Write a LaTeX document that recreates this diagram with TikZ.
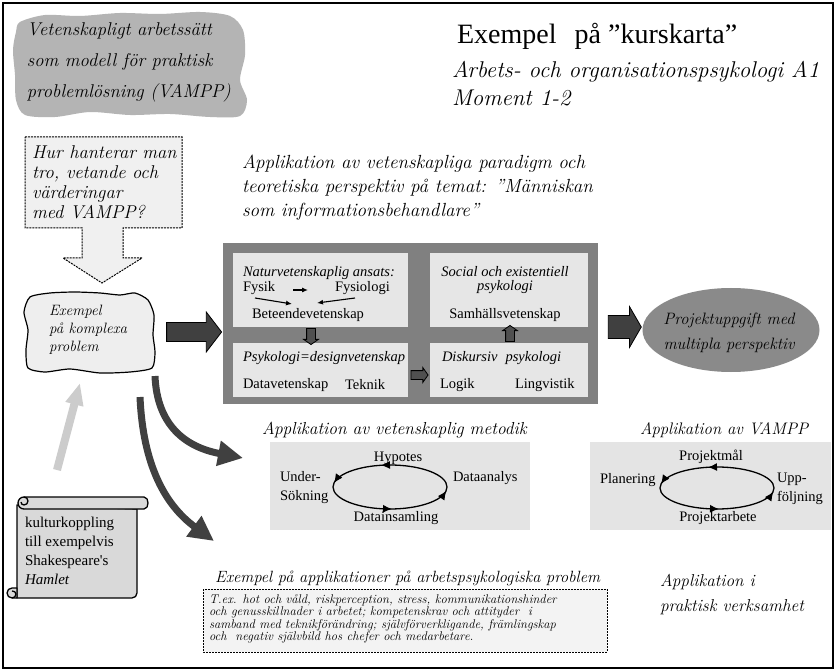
\documentclass[tikz,border=0pt]{standalone}
\usepackage{fontspec}
\newfontfamily\serif{Liberation Serif}
\usetikzlibrary{shapes.geometric,shapes.arrows,arrows.meta}
\definecolor{blobgrey}{HTML}{B4B4B4}
\definecolor{outergrey}{HTML}{808080}
\definecolor{innergrey}{HTML}{E6E6E6}
\definecolor{ellgrey}{HTML}{8A8A8A}
\definecolor{darkarrow}{HTML}{404040}
\definecolor{smallarrow}{HTML}{505050}
\definecolor{lightarrow}{HTML}{CCCCCC}
\definecolor{qfill}{HTML}{F0F0F0}
\definecolor{blobfill}{HTML}{EEEEEE}
\definecolor{scrollfill}{HTML}{D9D9D9}
\definecolor{cycfill}{HTML}{E4E4E4}
\definecolor{textboxfill}{HTML}{F3F3F3}
\newcommand\hf[2]{\fontsize{#1}{#2}\selectfont\itshape\addfontfeatures{FakeBold=1.2}}
\newcommand\srf[2]{\fontsize{#1}{#2}\selectfont\serif}
\begin{document}
\begin{tikzpicture}[x=1pt,y=-1pt,
  txt/.style={inner sep=0pt, outer sep=0pt, anchor=west, align=left},
  ctxt/.style={inner sep=0pt, outer sep=0pt, anchor=center, align=center},
  blockarr/.style={single arrow, draw=black, line width=0.8pt, fill=#1, inner xsep=0pt, outer sep=0pt},
  smallarr/.style={line width=1.1pt, -{Latex[length=6pt,width=5pt]}},
  cycline/.style={line width=1.3pt},
  cyctip/.style={line width=1.3pt, -{Latex[length=9pt,width=8pt]}},
  curvarr/.style={draw=darkarrow, line width=7pt, -{Triangle[length=25pt,width=24pt]}},
  scrollline/.style={draw=black, line width=1.3pt, fill=scrollfill, line join=round},
]
\useasboundingbox (0,0) rectangle (836,671);
\fill[white] (0,0) rectangle (836,671);
\draw[line width=1.5pt] (3,3) rectangle (833,668);

% top-left blob
\fill[blobgrey] plot[smooth cycle, tension=0.5] coordinates {(20,22) (45,15) (80,16) (120,13) (160,14) (200,12) (230,16) (243,30) (245,55) (240,80) (247,100) (240,116) (210,117) (170,114) (130,115) (90,112) (55,117) (25,115) (16,100) (15,75) (13,50) (16,32)};
\node[txt, font=\hf{18.5}{31}] (vampp) at (27,62) {Vetenskapligt arbetssätt\\som modell för praktisk\\problemlösning (VAMPP)};

% titles
\node[txt, font=\srf{28}{30}] (title) at (457,36) {Exempel\hspace{0.4em} på ”kurskarta”};
\node[txt, font=\hf{22.8}{28}] (course) at (452,84) {Arbets- och organisationspsykologi A1\\Moment 1-2};

% question callout
\draw[fill=qfill, line width=1pt, dash pattern=on 2pt off 1pt]
  (25,137) -- (182,137) -- (182,228) -- (123,228) -- (123,258) -- (142,258) -- (102,283) -- (63,258) -- (82,258) -- (82,228) -- (25,228) -- cycle;
\node[txt, font=\hf{18.5}{20}] (question) at (32,182) {Hur hanterar man\\tro, vetande och\\värderingar\\med VAMPP?};

% application title
\node[txt, font=\hf{19}{24}] (appl) at (242,188) {Applikation av vetenskapliga paradigm och\\teoretiska perspektiv på temat: ”Människan\\som informationsbehandlare”};

% complex problem blob
\draw[fill=blobfill, line width=1.2pt] plot[smooth cycle, tension=0.4] coordinates {(30,297) (50,293) (75,292) (100,293) (120,295) (135,293) (148,300) (154,315) (153,335) (155,352) (152,368) (130,372) (100,373) (70,369) (45,372) (28,368) (26,350) (28,330) (24,312)};
\node[txt, font=\hf{15}{18}] (komplex) at (49,330) {Exempel\\på komplexa\\problem};

% big block arrow to grey box
\node[blockarr=darkarrow, inner ysep=9pt, minimum height=55pt, single arrow head extend=10.5pt, single arrow tip angle=105] (arrA) at (190.5,332) {};

% grey box
\fill[outergrey] (223,243) rectangle (598,404);
\fill[innergrey] (233,253) rectangle (408,327);
\fill[innergrey] (430,253) rectangle (588,327);
\fill[innergrey] (233,343) rectangle (408,397);
\fill[innergrey] (430,343) rectangle (588,397);

\node[txt, font=\srf{14.5}{14}\itshape] (nat) at (243,273) {Naturvetenskaplig ansats:};
\node[txt, font=\srf{14.5}{14}] (fysik) at (243,288) {Fysik};
\node[txt, font=\srf{14.5}{14}] (fysiologi) at (335,288) {Fysiologi};
\node[txt, font=\srf{14.5}{14}] (bet) at (252,315) {Beteendevetenskap};
\coordinate (f1) at (293,290); \coordinate (f2) at (308,290);
\coordinate (g1) at (255,298); \coordinate (g2) at (292,304);
\coordinate (h1) at (355,298); \coordinate (h2) at (317,303);
\draw[smallarr] (f1) -- (f2);
\draw[smallarr] (g1) -- (g2);
\draw[smallarr] (h1) -- (h2);

\node[ctxt, font=\srf{14.5}{14.5}\itshape] (social) at (505,280) {Social och existentiell\\psykologi};
\node[ctxt, font=\srf{14.5}{14}] (samh) at (505,315) {Samhällsvetenskap};

\node[txt, font=\srf{14.5}{14}\itshape] (psyk) at (243,358) {Psykologi=designvetenskap};
\node[txt, font=\srf{14.5}{14}] (datav) at (243,385) {Datavetenskap};
\node[txt, font=\srf{14.5}{14}] (teknik) at (345,385) {Teknik};

\node[txt, font=\srf{14.5}{14}\itshape] (disk) at (442,358) {Diskursiv\hspace{0.3em} psykologi};
\node[txt, font=\srf{14.5}{14}] (logik) at (440,385) {Logik};
\node[txt, font=\srf{14.5}{14}] (ling) at (515,385) {Lingvistik};

\node[blockarr=smallarrow, inner ysep=4pt, minimum height=16pt, single arrow head extend=3pt, single arrow tip angle=110, rotate=-90] (arrD) at (311,335) {};
\node[blockarr=smallarrow, inner ysep=4pt, minimum height=17pt, single arrow head extend=3pt, single arrow tip angle=110] (arrR) at (418,375) {};
\node[blockarr=smallarrow, inner ysep=4pt, minimum height=16pt, single arrow head extend=3pt, single arrow tip angle=110, rotate=90] (arrU) at (510,335) {};

% arrow to project ellipse
\node[blockarr=darkarrow, inner ysep=11pt, minimum height=33pt, single arrow head extend=9pt, single arrow tip angle=120] (arrB) at (621.5,327) {};
\node[ellipse, fill=ellgrey, minimum width=177pt, minimum height=84pt, inner sep=0pt] (proj) at (731,330) {};
\node[ctxt, font=\hf{16.5}{25}] (projtxt) at (729,333) {Projektuppgift med\\multipla perspektiv};

% metodik
\node[txt, font=\hf{17.4}{18}] (metodik) at (262,430) {Applikation av vetenskaplig metodik};
\fill[cycfill] (270,442) rectangle (530,530);
\coordinate (e1) at (390,487);
\draw[cycline] (e1) ellipse [x radius=57, y radius=22];
\coordinate (t1a) at (390,465); \coordinate (t1b) at (381,465.3);
\coordinate (l1a) at (335.7,480.5); \coordinate (l1b) at (334,483);
\coordinate (b1a) at (385,508.8); \coordinate (b1b) at (392,509);
\coordinate (r1a) at (444.6,493.3); \coordinate (r1b) at (446.3,490.8);
\draw[cyctip] (t1a) -- (t1b);
\draw[cyctip] (l1a) -- (l1b);
\draw[cyctip] (b1a) -- (b1b);
\draw[cyctip] (r1a) -- (r1b);
\node[ctxt, font=\srf{14.5}{14}] (hyp) at (398,458) {Hypotes};
\node[txt, font=\srf{14.5}{19}] (under) at (280,488) {Under-\\Sökning};
\node[txt, font=\srf{14.5}{14}] (dataan) at (453,478) {Dataanalys};
\node[ctxt, font=\srf{14.5}{14}] (datains) at (396,518) {Datainsamling};

% VAMPP cycle
\node[txt, font=\hf{16.7}{18}] (vtitle) at (640,430) {Applikation av VAMPP};
\fill[cycfill] (590,442) rectangle (831,530);
\coordinate (e2) at (717,488);
\draw[cycline] (e2) ellipse [x radius=57, y radius=21];
\coordinate (t2a) at (717,467); \coordinate (t2b) at (708,467.3);
\coordinate (l2a) at (662.7,481.5); \coordinate (l2b) at (661,484);
\coordinate (b2a) at (712,508.8); \coordinate (b2b) at (719,509);
\coordinate (r2a) at (771.6,494.3); \coordinate (r2b) at (773.3,491.8);
\draw[cyctip] (t2a) -- (t2b);
\draw[cyctip] (l2a) -- (l2b);
\draw[cyctip] (b2a) -- (b2b);
\draw[cyctip] (r2a) -- (r2b);
\node[ctxt, font=\srf{14.5}{14}] (pmal) at (711,457) {Projektmål};
\node[txt, font=\srf{14.5}{14}] (plan) at (600,480) {Planering};
\node[txt, font=\srf{14.5}{19}] (upp) at (777,489) {Upp-\\följning};
\node[ctxt, font=\srf{14.5}{14}] (parb) at (718,518) {Projektarbete};

% curved arrows
\coordinate (c1s) at (155,376); \coordinate (c1e) at (243,458);
\coordinate (c2s) at (140,397); \coordinate (c2e) at (214,541);
\draw[curvarr] (c1s) .. controls (157,425) and (185,447) .. (c1e);
\draw[curvarr] (c2s) .. controls (143,465) and (165,505) .. (c2e);

% light arrow
\coordinate (ls) at (57,470); \coordinate (le) at (80,383);
\draw[draw=lightarrow, line width=8pt, -{Triangle[length=22pt,width=17pt]}] (ls) -- (le);

% scroll
\draw[scrollline] (17,505) -- (17,598) -- (132,598) to[out=0,in=-90] (137,593) -- (137,509) -- cycle;
\draw[scrollline] (24,497) -- (144,497) to[out=0,in=90] (148,503) to[out=-90,in=0] (144,509) -- (24,509) to[out=180,in=-90] (18,503) to[out=90,in=180] (24,497) -- cycle;
\draw[line width=1.3pt] (24,497) to[out=0,in=90] (28,501) to[out=-90,in=0] (24,505) to[out=180,in=-90] (21,502);
\draw[scrollline] (17,588) -- (12,588) to[out=180,in=90] (7,593) to[out=-90,in=180] (12,598) -- (17,598) -- cycle;
\draw[line width=1.3pt] (12,598) to[out=0,in=-90] (16,594) to[out=90,in=0] (12,591);
\node[txt, font=\srf{15}{19}] (kultur) at (25,551) {kulturkoppling\\till exempelvis\\Shakespeare's\\\textit{Hamlet}};

% bottom section
\node[txt, font=\hf{16.3}{18}] (btitle) at (215,578) {Exempel på applikationer på arbetspsykologiska problem};
\draw[fill=textboxfill, line width=1pt, dash pattern=on 2pt off 1pt] (203,589) rectangle (607,652);
\node[txt, font=\hf{12.6}{12.5}] (btext) at (209,619) {T.ex. hot och våld, riskperception, stress, kommunikationshinder\\och genusskillnader i arbetet; kompetenskrav och attityder\ \ i\\samband med teknikförändring; självförverkligande, främlingskap\\och\ \ negativ självbild hos chefer och medarbetare.};
\node[txt, font=\hf{17.2}{25}] (prakt) at (660,595) {Applikation i\\praktisk verksamhet};
\end{tikzpicture}
\end{document}
